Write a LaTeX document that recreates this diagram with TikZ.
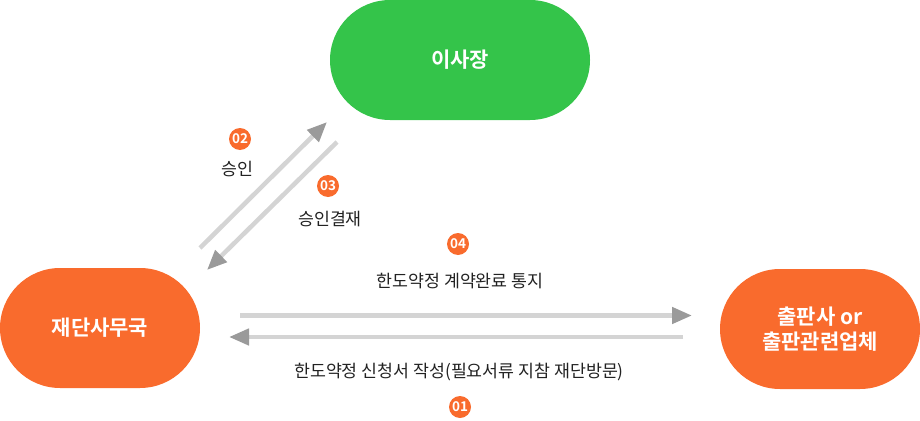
\documentclass[tikz,border=0pt]{standalone}
\usepackage{fontspec}
\newfontfamily\kr{Noto Sans CJK KR}
\newfontfamily\krb{Noto Sans CJK KR Bold}
\usetikzlibrary{shapes.misc,arrows.meta}
\definecolor{pillgreen}{HTML}{34C44A}
\definecolor{pillorange}{HTML}{F96B2D}
\definecolor{linegray}{HTML}{D4D4D4}
\definecolor{tipgray}{HTML}{9A9A9A}
\definecolor{txt}{HTML}{222222}
\tikzset{
  pill/.style={rounded rectangle, inner sep=0pt, minimum height=120pt, text=white,
    font=\krb\fontsize{21}{25}\selectfont, align=center},
  badge/.style={circle, fill=pillorange, inner sep=0pt, minimum size=22pt, text=white,
    font=\krb\fontsize{13.5}{14}\selectfont},
  lbl/.style={text=txt, font=\kr\fontsize{17.3}{20}\selectfont, inner sep=0pt},
  flow/.style={draw=linegray, line width=4.5pt,
    -{Triangle[length=20pt,width=16pt,color=tipgray]}},
}
\begin{document}
\begin{tikzpicture}[x=1pt,y=-1pt]
\useasboundingbox (0,0) rectangle (920,420);
\node[pill, fill=pillgreen, minimum width=260pt] (chair) at (460,60) {이사장};
\node[pill, fill=pillorange, minimum width=200pt] (office) at (100,328) {재단사무국};
\node[pill, fill=pillorange, minimum width=200pt] (pub) at (820,329) {출판사 or\\출판관련업체};

\coordinate (a1) at (200,248);
\coordinate (a2) at (327,122);
\coordinate (b1) at (337,142);
\coordinate (b2) at (207,270);
\coordinate (c1) at (240,315.5);
\coordinate (c2) at (692,315.5);
\coordinate (d1) at (683,337);
\coordinate (d2) at (229,337);

\draw[flow] (a1) -- (a2);
\draw[flow] (b1) -- (b2);
\draw[flow] (c1) -- (c2);
\draw[flow] (d1) -- (d2);

\node[badge] (n2) at (240,139) {02};
\node[lbl] (l2) at (237.5,169) {승인};
\node[badge] (n3) at (328,186) {03};
\node[lbl] (l3) at (330,219) {승인결재};
\node[badge] (n4) at (458,244) {04};
\node[lbl] (l4) at (460,281) {한도약정 계약완료 통지};
\node[lbl] (l1) at (459,372) {한도약정 신청서 작성(필요서류 지참 재단방문)};
\node[badge] (n1) at (460,407) {01};
\end{tikzpicture}
\end{document}
